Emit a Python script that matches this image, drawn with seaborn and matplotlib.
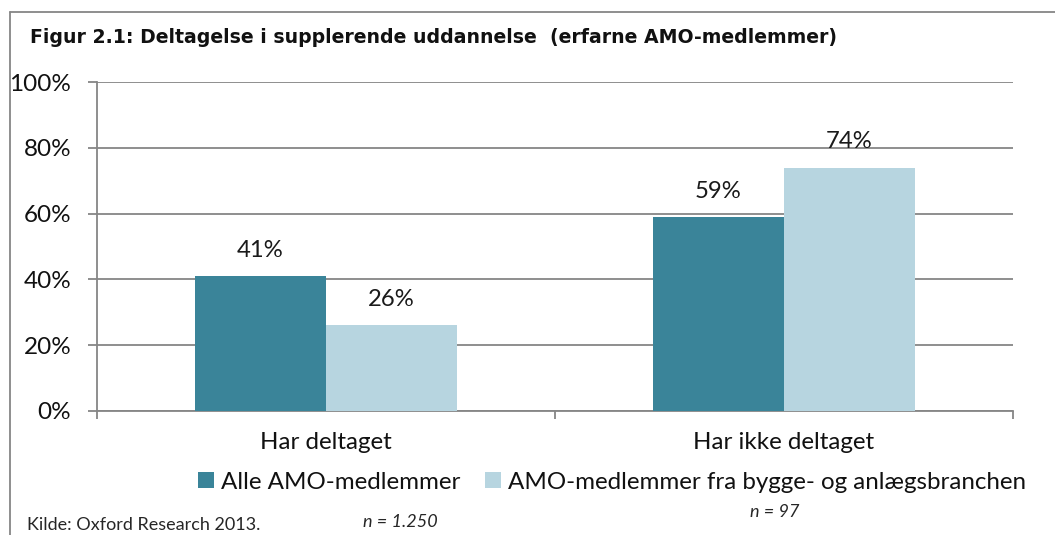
import matplotlib
matplotlib.use("Agg")
import matplotlib.pyplot as plt
from matplotlib.lines import Line2D
from matplotlib.patches import Patch
import seaborn as sns
import pandas as pd

categories = ["Har deltaget", "Har ikke deltaget"]
series = ["Alle AMO-medlemmer", "AMO-medlemmer fra bygge- og anlægsbranchen"]
alle = [41, 59]
bygge = [26, 74]
colors = ["#3A8499", "#B7D5E0"]
yticks = [0, 20, 40, 60, 80, 100]

df = pd.DataFrame({
    "kategori": categories * 2,
    "gruppe": [series[0]] * 2 + [series[1]] * 2,
    "andel": alle + bygge,
})

sns.set_style("white")
plt.rcParams["font.family"] = ["Lato", "DejaVu Sans"]
grey = "#868686"

fig = plt.figure(figsize=(10.55, 5.35), dpi=100)
ax = fig.add_axes([0.0919, 0.2318, 0.8683, 0.6149])

sns.barplot(data=df, x="kategori", y="andel", hue="gruppe", palette=colors,
            width=0.572, saturation=1, linewidth=0, gap=0, ax=ax, zorder=3)
ax.get_legend().remove()

for cont in ax.containers:
    ax.bar_label(cont, labels=[f"{v:.0f}%" for v in cont.datavalues],
                 padding=11, fontsize=17.2, color="#1a1a1a", zorder=4)

ax.set_ylim(0, 100)
ax.set_xlim(-0.5, 1.5)
ax.set_yticks(yticks)
ax.set_yticklabels([f"{t}%" for t in yticks])
ax.set_xlabel("")
ax.set_ylabel("")
ax.yaxis.grid(True, color=grey, linewidth=1.3, zorder=0)
ax.set_axisbelow(True)
ax.tick_params(axis="y", direction="out", length=6.5, width=1.3, color=grey,
               labelsize=17.5, pad=12, left=True, labelcolor="#111111")
ax.tick_params(axis="x", length=0, labelsize=17.4, pad=15, labelcolor="#111111")
ax.set_xticks([-0.5, 0.5, 1.5], minor=True)
ax.tick_params(axis="x", which="minor", direction="out", length=6, width=1.3,
               color=grey, bottom=True)
for s in ["top", "right"]:
    ax.spines[s].set_visible(False)
for s in ["left", "bottom"]:
    ax.spines[s].set_color(grey)
    ax.spines[s].set_linewidth(1.3)

handles = [Patch(facecolor=c, edgecolor="none") for c in colors]
fig.legend(handles, series, loc="center", bbox_to_anchor=(0.58, 0.099),
           ncol=2, frameon=False, fontsize=17.4, handlelength=0.67,
           handleheight=0.67, handletextpad=0.25, columnspacing=1.05,
           labelcolor="#111111")

fig.text(0.028, 0.929, "Figur 2.1: Deltagelse i supplerende uddannelse  (erfarne AMO-medlemmer)",
         fontsize=13.6, fontweight="bold", family="DejaVu Sans", va="center", color="#111111")
fig.text(0.026, 1 - 530 / 535, "Kilde: Oxford Research 2013.", fontsize=13, va="baseline")
fig.text(0.344, 1 - 527 / 535, "n = 1.250", fontsize=13, style="italic", va="baseline")
fig.text(0.711, 1 - 517 / 535, "n = 97", fontsize=13, style="italic", va="baseline")

fig.add_artist(Line2D([0.0095, 1.0], [0.978, 0.978], color=grey, linewidth=1.3,
                      transform=fig.transFigure))
fig.add_artist(Line2D([0.0095, 0.0095], [0.978, 0.0], color=grey, linewidth=1.3,
                      transform=fig.transFigure))

fig.savefig("out.png", dpi=100)
